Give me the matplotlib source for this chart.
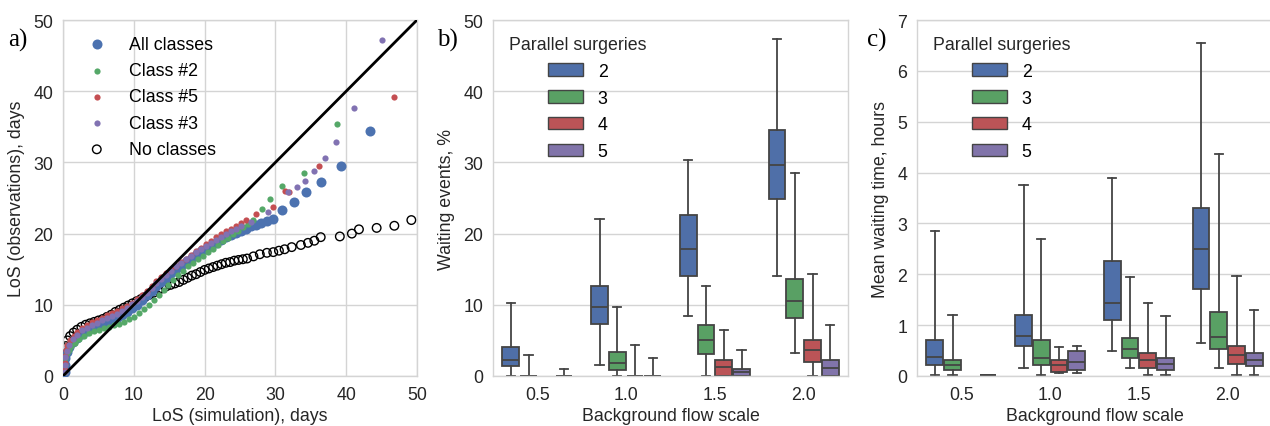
import matplotlib
matplotlib.use("Agg")
import matplotlib.pyplot as plt
from matplotlib.patches import Patch

plt.rcParams['font.family'] = ['Liberation Sans', 'DejaVu Sans']
plt.rcParams['font.size'] = 12.8

# ---------------- Panel a data (QQ plot) ----------------
all_x = [0.3, 0.3, 0.3, 0.5, 0.9, 1.4, 2.0, 2.7, 3.4, 4.1, 4.8, 5.5, 6.2, 6.9, 7.6, 8.3, 9.0, 9.7,
         10.4, 11.1, 11.8, 12.5, 13.2, 13.9, 14.6, 15.3, 16.0, 16.7, 17.4, 18.1, 18.8, 19.5, 20.2,
         20.9, 21.6, 22.3, 23.0, 23.7, 24.4, 25.1, 25.8, 26.5, 27.2, 28.0, 28.8, 29.6,
         31.0, 32.6, 34.3, 36.4, 39.3, 43.4]
all_y = [0.5, 1.5, 2.5, 3.4, 4.1, 4.8, 5.3, 5.9, 6.3, 6.7, 7.0, 7.3, 7.6, 7.9, 8.2, 8.5, 9.0, 9.5,
         10.0, 10.7, 11.4, 12.0, 12.6, 13.2, 13.8, 14.4, 15.0, 15.5, 16.0, 16.5, 17.0, 17.5, 17.9,
         18.3, 18.7, 19.1, 19.5, 19.8, 20.1, 20.4, 20.7, 21.0, 21.2, 21.5, 21.8, 22.1,
         23.3, 24.5, 25.9, 27.2, 29.5, 34.4]

c2_x = [0.3, 0.3, 0.3, 0.5, 0.8, 1.2, 1.7, 2.3, 3.0, 3.7, 4.4, 5.1, 5.8, 6.5, 7.2, 7.9, 8.6, 9.3,
        10.0, 10.7, 11.4, 12.1, 12.8, 13.5, 14.2, 14.9, 15.6, 16.3, 17.0, 17.7, 18.4, 19.1, 19.8,
        20.5, 21.2, 21.9, 22.6, 23.3, 24.0, 24.7, 25.4, 26.1, 26.8,
        28.1, 29.2, 31.0, 34.1, 38.7]
c2_y = [0.5, 1.5, 2.5, 3.2, 3.7, 4.2, 4.7, 5.2, 5.6, 6.0, 6.3, 6.5, 6.7, 6.9, 7.1, 7.3, 7.6, 8.0,
        8.3, 8.8, 9.4, 10.0, 10.7, 11.4, 12.1, 12.8, 13.5, 14.2, 14.8, 15.4, 15.9, 16.4, 16.9,
        17.4, 17.9, 18.4, 18.9, 19.4, 19.9, 20.4, 20.9, 21.4, 21.9,
        23.5, 24.9, 26.7, 28.5, 35.4]

c5_x = [0.3, 0.3, 0.3, 0.4, 0.6, 1.0, 1.5, 2.0, 2.7, 3.4, 4.1, 4.8, 5.5, 6.2, 6.9, 7.6, 8.3, 9.0,
        9.7, 10.4, 11.1, 11.8, 12.5, 13.2, 13.9, 14.6, 15.3, 16.0, 16.7, 17.4, 18.1, 18.8, 19.5,
        20.2, 20.9, 21.6, 22.3, 23.0, 23.7, 24.4, 25.1, 25.8,
        27.3, 29.6, 31.4, 31.9, 36.1, 46.7]
c5_y = [0.8, 1.8, 2.8, 3.7, 4.3, 5.0, 5.6, 6.2, 6.8, 7.2, 7.6, 7.9, 8.2, 8.5, 8.8, 9.1, 9.5, 9.9,
        10.3, 10.8, 11.4, 12.0, 12.7, 13.3, 13.9, 14.5, 15.0, 15.5, 16.0, 16.5, 17.0, 17.5, 18.0,
        18.5, 19.0, 19.5, 19.9, 20.3, 20.7, 21.1, 21.5, 21.9,
        22.8, 23.7, 26.0, 25.8, 29.5, 39.2]

c3_x = [0.3, 0.3, 0.3, 0.5, 0.9, 1.4, 2.0, 2.7, 3.4, 4.1, 4.8, 5.5, 6.2, 6.9, 7.6, 8.3, 9.0, 9.7,
        10.4, 11.1, 11.8, 12.5, 13.2, 13.9, 14.6, 15.3, 16.0, 16.7, 17.4, 18.1, 18.8, 19.5, 20.2,
        20.9, 21.6, 22.3, 23.0, 23.7, 24.4, 25.1, 26.6, 29.0,
        31.8, 33.0, 34.2, 35.4, 37.0, 38.6, 41.1, 45.1]
c3_y = [0.6, 1.6, 2.6, 3.5, 4.4, 5.2, 5.8, 6.4, 6.8, 7.2, 7.5, 7.8, 8.1, 8.4, 8.7, 9.1, 9.6, 10.1,
        10.5, 11.1, 11.7, 12.4, 13.0, 13.6, 14.2, 14.8, 15.4, 15.9, 16.4, 16.9, 17.4, 17.9, 18.3,
        18.7, 19.1, 19.5, 19.9, 20.3, 20.7, 21.0, 21.6, 23.0,
        25.9, 26.5, 27.4, 28.8, 30.6, 32.9, 37.6, 47.2]

nc_x = [0.2, 0.3, 0.4, 0.6, 1.0, 1.5, 2.0, 2.6, 3.2, 3.8, 4.4, 5.0, 5.6, 6.2, 6.8, 7.4, 8.0, 8.6,
        9.2, 9.8, 10.4, 11.0, 11.6, 12.2, 12.8, 13.4, 14.0, 14.6, 15.2, 15.8, 16.4, 17.0, 17.6,
        18.2, 18.8, 19.4, 20.0, 20.6, 21.2, 21.8, 22.4, 23.0, 23.6, 24.2, 24.8, 25.4, 26.0, 26.9,
        27.8, 28.8, 29.7, 30.5, 31.3, 32.3, 33.6, 34.6, 35.5, 36.4, 39.1, 40.8, 41.8, 44.3, 46.8, 49.2]
nc_y = [1.5, 3.0, 4.2, 5.0, 5.6, 6.1, 6.5, 6.9, 7.2, 7.4, 7.6, 7.8, 8.0, 8.3, 8.6, 9.0, 9.3, 9.6,
        9.9, 10.2, 10.5, 10.8, 11.1, 11.4, 11.7, 12.0, 12.3, 12.6, 12.8, 13.0, 13.2, 13.5, 13.8,
        14.1, 14.3, 14.6, 14.9, 15.1, 15.3, 15.5, 15.7, 15.9, 16.0, 16.2, 16.3, 16.4, 16.5, 16.8,
        17.1, 17.3, 17.4, 17.6, 17.8, 18.1, 18.4, 18.7, 19.0, 19.5, 19.6, 20.0, 20.6, 20.8, 21.1, 21.9]

# ---------------- Panels b/c data (box statistics) ----------------
scales = ["0.5", "1.0", "1.5", "2.0"]
surgeries = ["2", "3", "4", "5"]
# each entry: (whislo, q1, med, q3, whishi); None = no box
wait_events = {
    "2": [(0.0, 1.4, 2.3, 4.1, 10.3), (1.5, 7.35, 9.7, 12.7, 22.1), (8.4, 14.1, 17.9, 22.6, 30.3), (14.1, 24.8, 29.7, 34.5, 47.4)],
    "3": [(0.0, 0.0, 0.0, 0.0, 3.0), (0.0, 0.85, 1.8, 3.4, 9.7), (0.0, 3.1, 5.0, 7.2, 12.7), (3.2, 8.2, 10.5, 13.6, 28.5)],
    "4": [None, (0.0, 0.0, 0.0, 0.0, 4.4), (0.0, 0.0, 1.2, 2.3, 6.4), (0.0, 2.0, 3.7, 5.0, 14.3)],
    "5": [(0.0, 0.0, 0.0, 0.0, 1.0), (0.0, 0.0, 0.0, 0.0, 2.5), (0.0, 0.0, 0.5, 1.0, 3.7), (0.0, 0.0, 1.1, 2.3, 7.1)],
}
wait_time = {
    "2": [(0.02, 0.22, 0.37, 0.70, 2.86), (0.16, 0.59, 0.79, 1.20, 3.75), (0.50, 1.10, 1.44, 2.27, 3.90), (0.64, 1.72, 2.50, 3.30, 6.55)],
    "3": [(0.02, 0.11, 0.22, 0.31, 1.20), (0.02, 0.22, 0.35, 0.70, 2.70), (0.15, 0.35, 0.54, 0.74, 1.95), (0.16, 0.54, 0.77, 1.25, 4.36)],
    "4": [None, (0.05, 0.07, 0.22, 0.31, 0.57), (0.02, 0.15, 0.31, 0.45, 1.44), (0.02, 0.24, 0.41, 0.59, 1.97)],
    "5": [(0.02, 0.02, 0.02, 0.02, 0.02), (0.05, 0.12, 0.28, 0.50, 0.59), (0.02, 0.12, 0.23, 0.35, 1.17), (0.02, 0.20, 0.31, 0.45, 1.30)],
}

blue, green, red, purple = "#4C72B0", "#55A868", "#C44E52", "#8172B2"
box_colors = {"2": "#4F6FA8", "3": "#59A064", "4": "#BB5457", "5": "#8174AA"}
GRID = "#d4d4d4"
DARK = "#262626"
EDGE = "#444444"

W, H = 1270, 427
fig = plt.figure(figsize=(W / 100, H / 100), dpi=100)


def px_axes(left, right, top, bottom):
    return fig.add_axes([left / W, 1 - bottom / H, (right - left) / W, (bottom - top) / H])


def style(ax):
    ax.set_facecolor("white")
    for s in ax.spines.values():
        s.set_color(GRID)
        s.set_linewidth(1.0)
    ax.tick_params(length=0, pad=7, colors=DARK, labelsize=12.8)
    ax.set_axisbelow(True)


# ---------------- Panel a ----------------
axa = px_axes(63, 417, 21, 377)
style(axa)
axa.grid(True, color=GRID, linewidth=1.0)
h_nc = axa.scatter(nc_x, nc_y, s=38, facecolors="none", edgecolors="black", linewidths=1.0, zorder=2)
h_all = axa.scatter(all_x, all_y, s=52, color=blue, linewidths=0, zorder=3)
h_c2 = axa.scatter(c2_x, c2_y, s=20, color=green, linewidths=0, zorder=4)
h_c5 = axa.scatter(c5_x, c5_y, s=20, color=red, linewidths=0, zorder=5)
h_c3 = axa.scatter(c3_x, c3_y, s=20, color=purple, linewidths=0, zorder=6)
axa.plot([0, 50], [0, 50], color="black", linewidth=2, zorder=7)
axa.set_xlim(0, 50)
axa.set_ylim(0, 50)
axa.set_xticks(range(0, 51, 10))
axa.set_yticks(range(0, 51, 10))
axa.set_xlabel("LoS (simulation), days", color=DARK, labelpad=3)
axa.set_ylabel("LoS (observations), days", color=DARK, labelpad=6)
axa.legend([h_all, h_c2, h_c5, h_c3, h_nc],
           ["All classes", "Class #2", "Class #5", "Class #3", "No classes"],
           loc="upper left", frameon=False, scatterpoints=1, labelspacing=0.52,
           handletextpad=0.8, borderaxespad=0.5)


# ---------------- Panels b & c ----------------
def box_panel(ax, data, ymax, ylabel):
    style(ax)
    ax.grid(True, axis="y", color=GRID, linewidth=1.0)
    ax.grid(False, axis="x")
    offsets = [-0.3, -0.1, 0.1, 0.3]
    for k, srg in enumerate(surgeries):
        stats, pos = [], []
        for i, vals in enumerate(data[srg]):
            if vals is None:
                continue
            lo, q1, med, q3, hi = vals
            stats.append(dict(whislo=lo, q1=q1, med=med, q3=q3, whishi=hi, fliers=[]))
            pos.append(i + offsets[k])
        ax.bxp(stats, positions=pos, widths=0.19, patch_artist=True, showfliers=False,
               boxprops=dict(facecolor=box_colors[srg], edgecolor=EDGE, linewidth=1.3),
               medianprops=dict(color=EDGE, linewidth=1.3),
               whiskerprops=dict(color=EDGE, linewidth=1.3),
               capprops=dict(color=EDGE, linewidth=1.3),
               capwidths=0.095, manage_ticks=False)
    ax.set_xlim(-0.5, 3.5)
    ax.set_ylim(0, ymax)
    ax.set_xticks(range(len(scales)))
    ax.set_xticklabels(scales)
    ax.set_xlabel("Background flow scale", color=DARK, labelpad=3)
    ax.set_ylabel(ylabel, color=DARK, labelpad=6)
    handles = [Patch(facecolor=box_colors[s], edgecolor=EDGE, linewidth=1.0) for s in surgeries]
    leg = ax.legend(handles, surgeries, title="Parallel surgeries", loc="upper left",
                    frameon=False, labelspacing=0.55, borderaxespad=0.5,
                    title_fontsize=12.8)
    leg.get_title().set_color(DARK)
    leg._legend_box.sep = 7


axb = px_axes(493, 848, 21, 377)
box_panel(axb, wait_events, 50, "Waiting events, %")
axb.set_yticks(range(0, 51, 10))

axc = px_axes(917, 1272, 21, 377)
box_panel(axc, wait_time, 7, "Mean waiting time, hours")
axc.set_yticks(range(0, 8, 1))

# panel letters
for txt, xpx in [("a)", 8), ("b)", 437), ("c)", 867)]:
    fig.text(xpx / W, 1 - 47 / H, txt, family=["Liberation Serif", "DejaVu Serif"],
             fontsize=18, ha="left", va="baseline", color="black")

fig.savefig("out.png", dpi=100)
